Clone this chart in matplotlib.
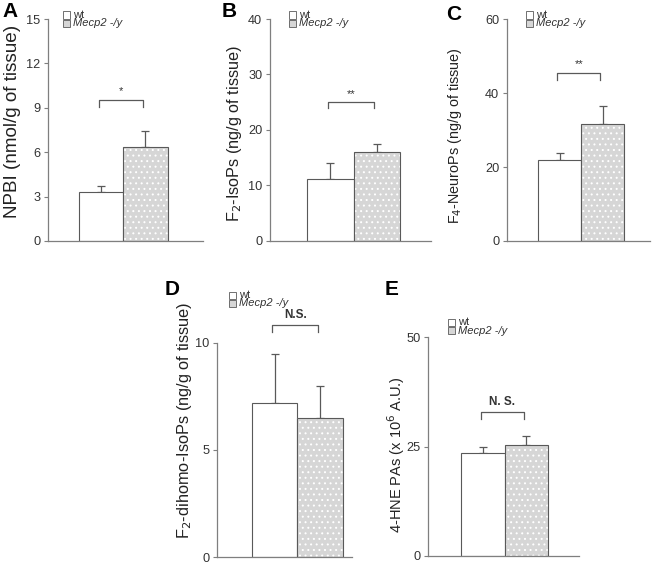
import numpy as np
import matplotlib.pyplot as plt

plt.rcParams['font.family'] = ['Liberation Sans', 'DejaVu Sans']
plt.rcParams['hatch.linewidth'] = 0.7

groups = ["wt", "Mecp2 -/y"]

# panel values: wt, Mecp2 -/y (mean and upper error)
npbi_mean = [3.3, 6.35]
npbi_err = [0.4, 1.1]
isop_mean = [11.1, 16.0]
isop_err = [3.0, 1.4]
neurop_mean = [21.8, 31.7]
neurop_err = [2.1, 4.8]
dihomo_mean = [7.2, 6.5]
dihomo_err = [2.3, 1.5]
hne_mean = [23.5, 25.3]
hne_err = [1.5, 2.0]

panels = [
    dict(lab="A", mean=npbi_mean, err=npbi_err, ylabel="NPBI (nmol/g of tissue)",
         ymax=15, ticks=[0, 3, 6, 9, 12, 15], sig="*", by=9.5, bd=0.45, bold=False,
         rect=[48, 19, 203, 241], xlim=(-0.7, 2.8), leg=(63, 15), lpos=(2, 2),
         ylpos=(13, 121), ylsize=13.6),
    dict(lab="B", mean=isop_mean, err=isop_err, ylabel="F$_2$-IsoPs (ng/g of tissue)",
         ymax=40, ticks=[0, 10, 20, 30, 40], sig="**", by=25.0, bd=1.1, bold=False,
         rect=[270, 19, 431, 241], xlim=(-0.8, 2.67), leg=(289, 15), lpos=(222, 2),
         ylpos=(235, 134), ylsize=11.7),
    dict(lab="C", mean=neurop_mean, err=neurop_err, ylabel="F$_4$-NeuroPs (ng/g of tissue)",
         ymax=60, ticks=[0, 20, 40, 60], sig="**", by=45.4, bd=1.8, bold=False,
         rect=[507, 19, 650, 241], xlim=(-0.72, 2.6), leg=(526, 15), lpos=(446, 5),
         ylpos=(455, 136), ylsize=10.4),
    dict(lab="D", mean=dihomo_mean, err=dihomo_err, ylabel="F$_2$-dihomo-IsoPs (ng/g of tissue)",
         ymax=10, ticks=[0, 5, 10], sig="N.S.", by=10.83, bd=0.3, bold=True,
         rect=[217, 343, 352, 557], xlim=(-0.77, 2.2), leg=(229, 295), lpos=(165, 280),
         ylpos=(185, 420), ylsize=11.8),
    dict(lab="E", mean=hne_mean, err=hne_err, ylabel="4-HNE PAs (x 10$^6$ A.U.)",
         ymax=50, ticks=[0, 25, 50], sig="N. S.", by=32.8, bd=1.5, bold=True,
         rect=[428, 337, 579, 556], xlim=(-0.76, 2.71), leg=(448, 322), lpos=(385, 280),
         ylpos=(396, 455), ylsize=10.5),
]

W, H = 659, 564
fig = plt.figure(figsize=(W / 100, H / 100), dpi=100)

grey = "#7f7f7f"
edge = "#595959"
fill = "#d6d6d6"

for p in panels:
    x0, y0, x1, y1 = p["rect"]
    ax = fig.add_axes([x0 / W, 1 - y1 / H, (x1 - x0) / W, (y1 - y0) / H])
    xs = np.arange(len(groups))
    # error bars (upper only)
    ax.errorbar(xs + 0.5, p["mean"], yerr=[[0, 0], p["err"]], fmt="none",
                ecolor=edge, elinewidth=0.9, capsize=3, capthick=0.9, zorder=1)
    ax.bar(xs[0], p["mean"][0], width=1, align="edge", color="white",
           edgecolor=edge, linewidth=0.8, zorder=2)
    ax.bar(xs[1], p["mean"][1], width=1, align="edge", color=fill,
           edgecolor="white", linewidth=0, hatch="...", zorder=2)
    ax.bar(xs[1], p["mean"][1], width=1, align="edge", fill=False,
           edgecolor=edge, linewidth=0.8, zorder=3)
    ax.set_xlim(*p["xlim"])
    ax.set_ylim(0, p["ymax"])
    ax.set_yticks(p["ticks"])
    ax.set_xticks([])
    for s in ["top", "right"]:
        ax.spines[s].set_visible(False)
    for s in ["left", "bottom"]:
        ax.spines[s].set_color(grey)
        ax.spines[s].set_linewidth(0.9)
    ax.tick_params(axis="y", colors=grey, labelcolor="#333333", labelsize=9.2,
                   length=3, width=0.8, pad=2.5)

    # y label placed by hand
    lx, ly = p["ylpos"]
    fig.text(lx / W, 1 - ly / H, p["ylabel"], rotation=90, fontsize=p["ylsize"],
             color="#222222", ha="center", va="center")

    # significance bracket
    bx0, bx1 = 0.45, 1.45
    by, bd = p["by"], p["bd"]
    ax.plot([bx0, bx0, bx1, bx1], [by - bd, by, by, by - bd], color=edge,
            lw=0.9, clip_on=False)
    ax.text((bx0 + bx1) / 2, by + bd * 0.6, p["sig"], ha="center", va="bottom",
            fontsize=8 if not p["bold"] else 8.5,
            fontweight="bold" if p["bold"] else "normal", color="#333333")

    # legend boxes
    lx, ly = p["leg"]
    for k, (name, fc) in enumerate(zip(groups, ["white", fill])):
        yy = ly + 8.5 * k
        fig.patches.append(plt.Rectangle((lx / W, 1 - (yy + 3.5) / H), 7 / W, 7 / H,
                                         transform=fig.transFigure, facecolor=fc,
                                         edgecolor=edge, linewidth=0.6))
        fig.text((lx + 10) / W, 1 - yy / H, name, fontsize=8, color="#333333",
                 va="center", ha="left", style="normal" if k == 0 else "italic")

    lx, ly = p["lpos"]
    fig.text(lx / W, 1 - ly / H, p["lab"], fontsize=15, fontweight="bold",
             va="top", ha="left")

fig.savefig("out.png", dpi=100)
